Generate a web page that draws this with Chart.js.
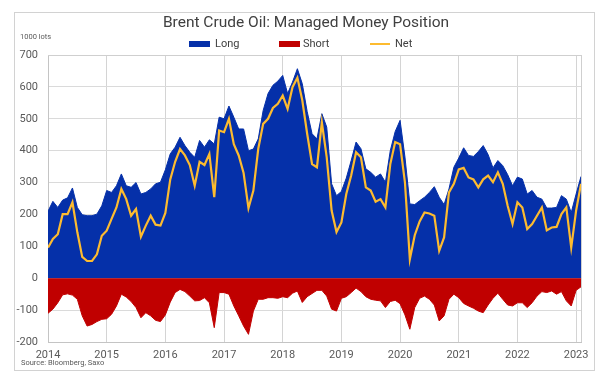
<!DOCTYPE html>
<html>
<head>
<meta charset="utf-8">
<script src="https://cdn.jsdelivr.net/npm/chart.js@4.4.1/dist/chart.umd.min.js"></script>
<style>
html,body{margin:0;padding:0;background:#fff;}
#wrap{position:relative;width:614px;height:380px;overflow:hidden;font-family:Roboto,"Liberation Sans",sans-serif;}
#frame{position:absolute;left:14px;top:12px;width:581px;height:359px;border:1px solid #d2d2d2;box-sizing:border-box;}
canvas{position:absolute;left:0;top:0;}
.txt{position:absolute;white-space:nowrap;}
#title{left:0;width:612px;top:13px;text-align:center;font-size:15.5px;line-height:18px;color:#404040;}
#unit{left:20px;top:32px;font-size:7.5px;line-height:9px;color:#595959;}
#source{left:21px;top:358px;font-size:7.5px;line-height:9px;color:#595959;}
.lg{position:absolute;top:38px;font-size:11px;line-height:12px;color:#404040;}
.sw{position:absolute;}
</style>
</head>
<body>
<div id="wrap">
  <div id="frame"></div>
  <canvas id="c" width="614" height="380"></canvas>
  <div class="txt" id="title">Brent Crude Oil: Managed Money Position</div>
  <div class="txt" id="unit">1000 lots</div>
  <div class="txt" id="source">Source: Bloomberg, Saxo</div>
  <div id="legend"></div>
</div>
<script>
// ---- Data (monthly readings, thousand lots) ----
const months = [
 "2014-01","2014-02","2014-03","2014-04","2014-05","2014-06","2014-07","2014-08","2014-09","2014-10","2014-11","2014-12",
 "2015-01","2015-02","2015-03","2015-04","2015-05","2015-06","2015-07","2015-08","2015-09","2015-10","2015-11","2015-12",
 "2016-01","2016-02","2016-03","2016-04","2016-05","2016-06","2016-07","2016-08","2016-09","2016-10","2016-11","2016-12",
 "2017-01","2017-02","2017-03","2017-04","2017-05","2017-06","2017-07","2017-08","2017-09","2017-10","2017-11","2017-12",
 "2018-01","2018-02","2018-03","2018-04","2018-05","2018-06","2018-07","2018-08","2018-09","2018-10","2018-11","2018-12",
 "2019-01","2019-02","2019-03","2019-04","2019-05","2019-06","2019-07","2019-08","2019-09","2019-10","2019-11","2019-12",
 "2020-01","2020-02","2020-03","2020-04","2020-05","2020-06","2020-07","2020-08","2020-09","2020-10","2020-11","2020-12",
 "2021-01","2021-02","2021-03","2021-04","2021-05","2021-06","2021-07","2021-08","2021-09","2021-10","2021-11","2021-12",
 "2022-01","2022-02","2022-03","2022-04","2022-05","2022-06","2022-07","2022-08","2022-09","2022-10","2022-11","2022-12",
 "2023-01","2023-02"
];
const longPos = [
 210,241,222,245,252,283,222,199,196,196,201,227,
 275,269,290,327,290,285,300,264,269,280,296,301,
 340,390,411,442,416,395,379,432,411,434,421,505,
 500,540,505,468,468,400,405,437,526,579,605,618,
 636,579,615,657,610,523,453,437,516,474,296,259,
 272,314,369,427,406,343,332,317,327,301,400,460,
 495,380,233,231,243,254,269,287,254,231,280,348,
 377,409,385,382,397,416,388,346,369,353,325,290,
 317,311,264,275,254,248,220,220,222,259,248,206,
 264,319
];
const shortPos = [
 -110,-97,-77,-52,-49,-53,-66,-118,-150,-145,-136,-129,
 -127,-113,-87,-50,-59,-73,-92,-124,-108,-118,-132,-136,
 -115,-75,-45,-35,-42,-56,-71,-70,-61,-77,-155,-45,
 -45,-50,-87,-118,-150,-176,-103,-66,-66,-61,-61,-63,
 -58,-61,-47,-40,-76,-58,-48,-38,-38,-56,-97,-103,
 -63,-58,-45,-31,-42,-58,-66,-69,-71,-92,-73,-69,
 -80,-115,-160,-92,-63,-56,-66,-84,-134,-118,-66,-50,
 -61,-79,-87,-94,-103,-108,-84,-63,-47,-66,-84,-87,
 -77,-77,-92,-77,-56,-42,-45,-40,-50,-42,-71,-87,
 -38,-27
];
const netPos = [
 96,123,138,201,201,238,144,67,54,54,75,133,
 149,186,222,280,248,196,217,130,165,196,168,165,
 205,310,365,405,385,355,290,365,355,390,254,463,
 458,500,420,385,330,220,275,406,484,500,534,547,
 573,531,599,629,558,453,358,348,489,379,212,145,
 175,264,322,395,379,285,275,240,248,222,358,427,
 420,300,60,135,178,206,203,196,86,128,269,296,
 341,346,316,310,285,310,322,301,332,296,227,170,
 238,222,154,170,196,222,150,159,161,201,222,96,
 212,296
];
const seriesNames = ["Long","Short","Net"];
const yTicks = [-200,-100,0,100,200,300,400,500,600,700];
const xYears = [2014,2015,2016,2017,2018,2019,2020,2021,2022,2023];

const colors = {Long:"#0530A9", Short:"#C00000", Net:"#FDBB2F"};

function toYear(s){ const [y,m] = s.split("-").map(Number); return y + (m-1)/12; }
const xs = months.map(toYear);
const pts = arr => arr.map((v,i)=>({x:xs[i], y:v}));

const frameLines = {
  id:'frameLines',
  afterDatasetsDraw(chart){
    const {ctx, chartArea:a} = chart;
    ctx.save();
    ctx.strokeStyle = '#cfcfcf';
    ctx.lineWidth = 1;
    ctx.beginPath();
    ctx.moveTo(Math.round(a.right)+0.5, a.top);
    ctx.lineTo(Math.round(a.right)+0.5, a.bottom);
    ctx.moveTo(a.left, Math.round(a.top)+0.5);
    ctx.lineTo(a.right, Math.round(a.top)+0.5);
    ctx.stroke();
    ctx.restore();
  }
};

const chart = new Chart(document.getElementById('c'), {
  type:'line',
  data:{
    datasets:[
      {label:seriesNames[0], data:pts(longPos), borderColor:colors.Long, backgroundColor:colors.Long,
       borderWidth:1, fill:'origin', pointRadius:0, tension:0, order:2},
      {label:seriesNames[1], data:pts(shortPos), borderColor:colors.Short, backgroundColor:colors.Short,
       borderWidth:1, fill:'origin', pointRadius:0, tension:0, order:1},
      {label:seriesNames[2], data:pts(netPos), borderColor:colors.Net, backgroundColor:colors.Net,
       borderWidth:2.2, fill:false, pointRadius:0, tension:0, order:0}
    ]
  },
  options:{
    responsive:false,
    animation:false,
    devicePixelRatio:1,
    layout:{padding:{left:0, right:33, top:55, bottom:18}},
    plugins:{legend:{display:false}, title:{display:false}, tooltip:{enabled:false}},
    scales:{
      x:{
        type:'linear',
        min:xs[0], max:xs[xs.length-1],
        afterBuildTicks(scale){ scale.ticks = xYears.map(v=>({value:v})); },
        afterFit(scale){ scale.height = 20; },
        ticks:{color:'#595959', font:{family:'Roboto', size:11}, padding:7, maxRotation:0, autoSkip:false,
               includeBounds:false, callback:v=>String(v)},
        grid:{color:'#d4d4d4', drawTicks:false},
        border:{color:'#c4c4c4'}
      },
      y:{
        min:yTicks[0], max:yTicks[yTicks.length-1],
        afterBuildTicks(scale){ scale.ticks = yTicks.map(v=>({value:v})); },
        afterFit(scale){ scale.width = 48; },
        ticks:{color:'#595959', font:{family:'Roboto', size:11}, padding:10, callback:v=>String(v)},
        grid:{color:'#dadada', drawTicks:false},
        border:{color:'#c4c4c4'}
      }
    }
  },
  plugins:[frameLines]
});

// HTML legend built from the series names
const legendPos = {Long:[189,215], Short:[279,303], Net:[370,395]};
const lg = document.getElementById('legend');
seriesNames.forEach(name=>{
  const [bx,tx] = legendPos[name];
  const sw = document.createElement('div');
  sw.className = 'sw';
  sw.style.left = bx+'px';
  sw.style.width = (name==='Net'?20:21)+'px';
  if(name==='Net'){ sw.style.top='43px'; sw.style.height='2px'; }
  else { sw.style.top='41px'; sw.style.height='6px'; }
  sw.style.background = colors[name];
  lg.appendChild(sw);
  const t = document.createElement('div');
  t.className='lg';
  t.style.left = tx+'px';
  t.textContent = name;
  lg.appendChild(t);
});
</script>
</body>
</html>
